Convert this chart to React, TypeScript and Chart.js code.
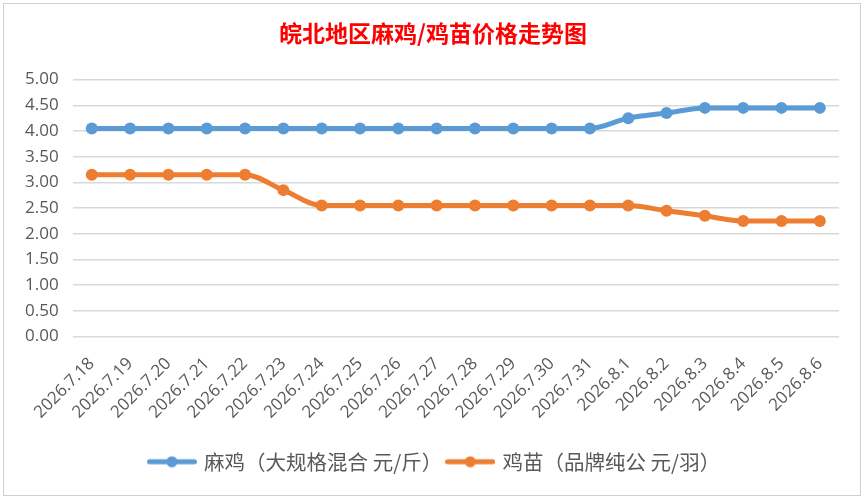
import React, { useEffect, useRef } from "react";
import { Chart, registerables } from "chart.js";

Chart.register(...registerables);

const categories = [
  "2026.7.18", "2026.7.19", "2026.7.20", "2026.7.21", "2026.7.22", "2026.7.23",
  "2026.7.24", "2026.7.25", "2026.7.26", "2026.7.27", "2026.7.28", "2026.7.29",
  "2026.7.30", "2026.7.31", "2026.8.1", "2026.8.2", "2026.8.3", "2026.8.4",
  "2026.8.5", "2026.8.6",
];

const maJiValues = [
  4.05, 4.05, 4.05, 4.05, 4.05, 4.05, 4.05, 4.05, 4.05, 4.05, 4.05, 4.05,
  4.05, 4.05, 4.25, 4.35, 4.45, 4.45, 4.45, 4.45,
];

const jiMiaoValues = [
  3.15, 3.15, 3.15, 3.15, 3.15, 2.85, 2.55, 2.55, 2.55, 2.55, 2.55, 2.55,
  2.55, 2.55, 2.55, 2.45, 2.35, 2.25, 2.25, 2.25,
];

const seriesNames = ["麻鸡（大规格混合 元/斤）", "鸡苗（品牌纯公 元/羽）"];
const titleText = "皖北地区麻鸡/鸡苗价格走势图";

const BLUE = "#5B9BD5";
const ORANGE = "#ED7D31";

function makeLegendMarker(color: string): HTMLCanvasElement {
  const c = document.createElement("canvas");
  c.width = 50;
  c.height = 12;
  const ctx = c.getContext("2d")!;
  ctx.strokeStyle = color;
  ctx.lineWidth = 5;
  ctx.lineCap = "round";
  ctx.beginPath();
  ctx.moveTo(2.5, 6);
  ctx.lineTo(47.5, 6);
  ctx.stroke();
  ctx.fillStyle = color;
  ctx.beginPath();
  ctx.arc(25, 6, 5.5, 0, Math.PI * 2);
  ctx.fill();
  return c;
}

const shiftBlocks = {
  id: "shiftBlocks",
  afterLayout(chart: any) {
    const t = chart.titleBlock;
    if (t) {
      t.left += 8;
      t.right += 8;
    }
    const l = chart.legend;
    if (l) {
      l.left += 10;
      l.right += 10;
    }
  },
};

export default function App() {
  const canvasRef = useRef<HTMLCanvasElement | null>(null);

  useEffect(() => {
    if (!canvasRef.current) return;
    const markers = [makeLegendMarker(BLUE), makeLegendMarker(ORANGE)];
    const chart = new Chart(canvasRef.current, {
      type: "line",
      data: {
        labels: categories,
        datasets: [
          {
            label: seriesNames[0],
            data: maJiValues,
            borderColor: BLUE,
            backgroundColor: BLUE,
            borderWidth: 5,
            pointRadius: 6,
            pointBorderWidth: 0,
            pointBackgroundColor: BLUE,
            pointStyle: "circle",
            cubicInterpolationMode: "monotone",
          },
          {
            label: seriesNames[1],
            data: jiMiaoValues,
            borderColor: ORANGE,
            backgroundColor: ORANGE,
            borderWidth: 5,
            pointRadius: 6,
            pointBorderWidth: 0,
            pointBackgroundColor: ORANGE,
            pointStyle: "circle",
            cubicInterpolationMode: "monotone",
          },
        ],
      },
      plugins: [shiftBlocks],
      options: {
        animation: false,
        responsive: true,
        maintainAspectRatio: false,
        layout: { padding: { left: 11, right: 28, top: 0, bottom: 19 } },
        plugins: {
          tooltip: { enabled: false },
          title: {
            display: true,
            text: titleText,
            color: "#FF0000",
            font: { family: "'Noto Sans CJK SC'", size: 23, weight: "bold" },
            padding: { top: 19, bottom: 33 },
          },
          legend: {
            display: true,
            position: "bottom",
            labels: {
              usePointStyle: true,
              pointStyleWidth: 44,
              color: "#595959",
              padding: 6,
              font: { family: "'Noto Sans CJK SC'", size: 20.5 },
              generateLabels: (ch: any) =>
                ch.data.datasets.map((ds: any, i: number) => ({
                  text: ds.label,
                  fillStyle: ds.borderColor,
                  strokeStyle: ds.borderColor,
                  pointStyle: markers[i],
                  lineWidth: 0,
                  datasetIndex: i,
                  hidden: false,
                  fontColor: "#595959",
                })),
            },
          },
        },
        scales: {
          x: {
            type: "category",
            offset: true,
            grid: { display: false },
            border: { display: false },
            afterFit: (scale: any) => {
              scale.height += 14;
            },
            ticks: {
              minRotation: 45,
              maxRotation: 45,
              autoSkip: false,
              color: "#595959",
              padding: 9,
              font: { family: "'Open Sans'", size: 17 },
            },
          },
          y: {
            min: 0,
            max: 5,
            border: { display: false },
            grid: { color: "#d9d9d9", lineWidth: 1.5, drawTicks: false },
            ticks: {
              stepSize: 0.5,
              color: "#595959",
              padding: 14,
              font: { family: "'Open Sans'", size: 17 },
              callback: (v: any) => Number(v).toFixed(2),
            },
          },
        },
      },
    });
    return () => chart.destroy();
  }, []);

  return (
    <div style={{ position: "absolute", left: 0, top: 0, width: 867, height: 501, background: "#fff" }}>
      <div
        style={{
          position: "absolute",
          left: 3,
          top: 3,
          width: 856,
          height: 491,
          border: "1px solid #d0d0d0",
          boxSizing: "content-box",
        }}
      />
      <div style={{ position: "absolute", left: 0, top: 0, width: 867, height: 501 }}>
        <canvas ref={canvasRef} />
      </div>
    </div>
  );
}
